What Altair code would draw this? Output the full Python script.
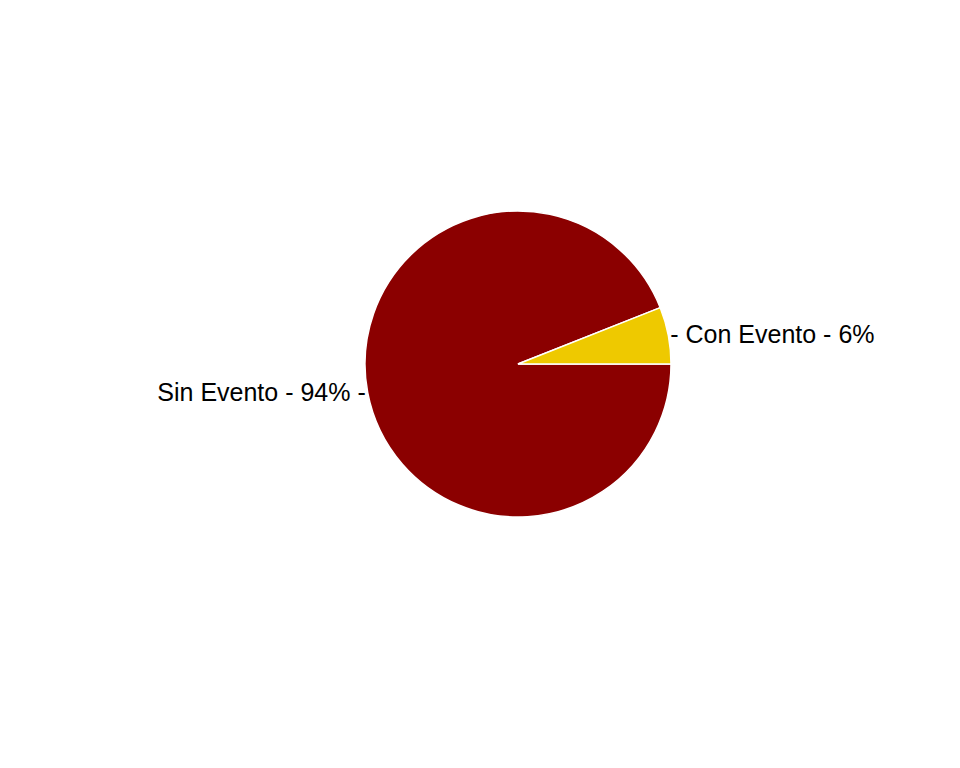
import altair as alt
import pandas as pd
import math

categorias = ["Sin Evento", "Con Evento"]
porcentajes = [94, 6]
colores = ["#8B0000", "#EEC900"]

df = pd.DataFrame({"cat": categorias, "pct": porcentajes, "orden": [0, 1]})

theta = alt.Theta("pct:Q", stack=True,
                  scale=alt.Scale(range=[math.pi / 2, math.pi / 2 + 2 * math.pi]))
base = alt.Chart(df).encode(theta=theta, order=alt.Order("orden:Q"))

pie = base.mark_arc(outerRadius=153, stroke="white", strokeWidth=1.5).encode(
    color=alt.Color("cat:N", scale=alt.Scale(domain=categorias, range=colores), legend=None)
)

font = dict(font="Liberation Sans", fontSize=25, color="black", baseline="middle")
der = base.transform_calculate(
    lab="datum.cat == 'Con Evento' ? '- ' + datum.cat + ' - ' + datum.pct + '%' : ''"
).mark_text(radius=155, align="left", **font).encode(text="lab:N")
izq = base.transform_calculate(
    lab="datum.cat == 'Sin Evento' ? datum.cat + ' - ' + datum.pct + '% -' : ''"
).mark_text(radius=155, align="right", **font).encode(text="lab:N")

chart = alt.layer(pie, der, izq).properties(
    width=868, height=712, padding={"left": 76, "top": 0, "right": 0, "bottom": 0},
    autosize=alt.AutoSizeParams(type="none")
).configure_view(stroke=None)

chart.save("out.html", embed_options={"renderer": "svg", "actions": False})
